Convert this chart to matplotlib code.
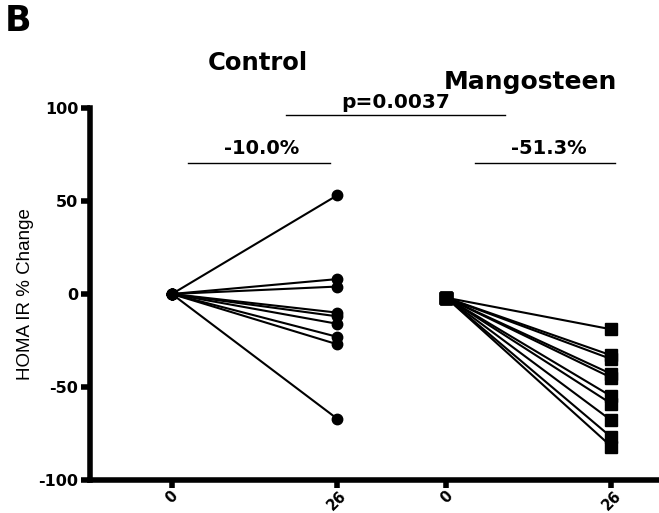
# HOMA IR % change, control vs mangosteen (panel B)
import matplotlib
matplotlib.use("Agg")
import matplotlib.pyplot as plt

plt.rcParams["axes.unicode_minus"] = False

# data
weeks = [0, 26]
tick_labels = ["0", "26", "0", "26"]
control_start = 0
control_end = [53, 8, 4, -10, -12, -16, -23, -27, -67]
mango_start = -2
mango_end = [-19, -33, -35, -43, -45, -55, -59, -68, -77, -82]
mango_offset = 43.2  # where the mangosteen group starts on the x axis

control_pct = "-10.0%"
mango_pct = "-51.3%"
p_text = "p=0.0037"

bold = dict(family="DejaVu Sans", fontweight="bold", color="black")

fig = plt.figure(figsize=(6.59, 5.13), dpi=100)
ax = fig.add_axes([90 / 659, 1 - 480 / 513, 1 - 90 / 659, (480 - 108) / 513])

mango_x = [w + mango_offset for w in weeks]

for end in control_end:
    ax.plot(weeks, [control_start, end], color="black", lw=1.5,
            marker="o", ms=7.5, mfc="black", mec="black", clip_on=False, zorder=3)
for end in mango_end:
    ax.plot(mango_x, [mango_start, end], color="black", lw=1.5,
            marker="s", ms=8.5, mfc="black", mec="black", clip_on=False, zorder=3)

ax.set_xlim(-12.9, 76.7)
ax.set_ylim(-100, 100)
ax.set_yticks([-100, -50, 0, 50, 100])
ax.set_xticks(weeks + mango_x)
ax.set_xticklabels(tick_labels, rotation=45, ha="center", va="top", **bold, fontsize=10.5)
for lab in ax.get_yticklabels():
    lab.set_fontfamily("DejaVu Sans")
    lab.set_fontweight("bold")
    lab.set_fontsize(11.5)

for side in ["top", "right"]:
    ax.spines[side].set_visible(False)
for side in ["left", "bottom"]:
    ax.spines[side].set_linewidth(4)
ax.tick_params(axis="both", width=4, length=6.5, direction="out", pad=2)
ax.tick_params(axis="x", length=5.5, pad=0.5)

ax.set_ylabel("HOMA IR % Change", fontsize=13.5, family="Liberation Sans", labelpad=3)

# group titles
ax.text(13.5, 124, "Control", ha="center", va="center", fontsize=17.5, clip_on=False, **bold)
ax.text(56.5, 114, "Mangosteen", ha="center", va="center", fontsize=18, clip_on=False, **bold)

# p value bracket
ax.plot([18, 52.5], [96, 96], color="black", lw=1, clip_on=False)
ax.text(35.3, 98, p_text, ha="center", va="bottom", fontsize=14.5, clip_on=False, **bold)

# percent change bars
ax.plot([2.5, 24.9], [70.5, 70.5], color="black", lw=1, clip_on=False)
ax.text(14.1, 73, control_pct, ha="center", va="bottom", fontsize=14, clip_on=False, **bold)
ax.plot([47.7, 69.8], [70.5, 70.5], color="black", lw=1, clip_on=False)
ax.text(59.3, 73, mango_pct, ha="center", va="bottom", fontsize=14, clip_on=False, **bold)

fig.text(5 / 659, 1 - 4 / 513, "B", ha="left", va="top", fontsize=25, **bold)

fig.savefig("out.png", dpi=100)
